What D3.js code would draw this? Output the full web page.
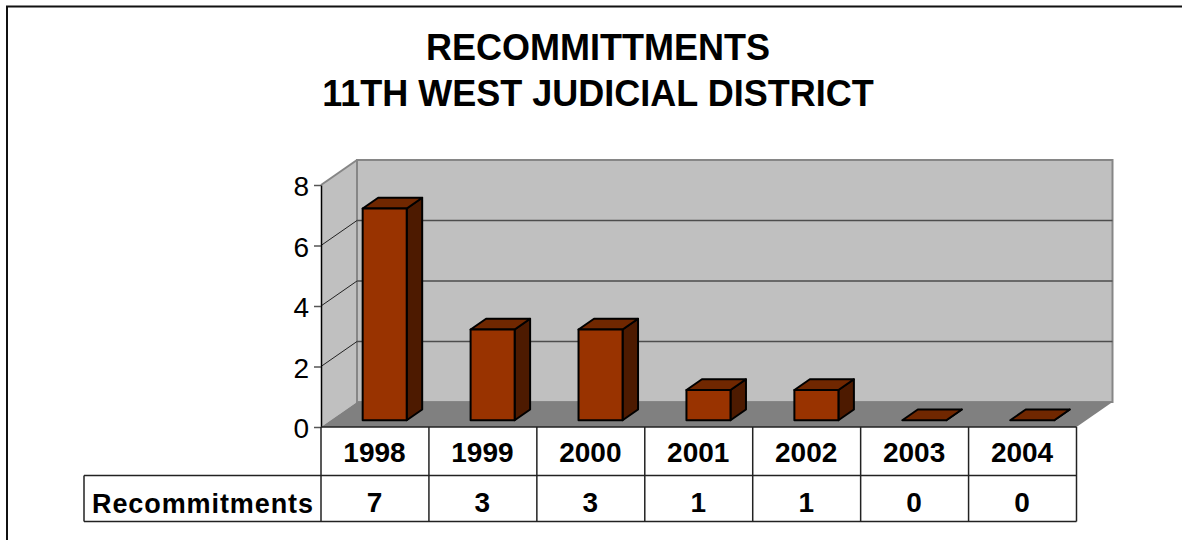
<!DOCTYPE html>
<html>
<head>
<meta charset="utf-8">
<script src="https://cdn.jsdelivr.net/npm/d3@7"></script>
<style>
html, body { margin: 0; padding: 0; background: #fff; }
svg { display: block; }
text { font-family: "Liberation Sans", Arial, sans-serif; fill: #000; }
</style>
</head>
<body>
<svg id="chart"></svg>
<script>
var years = ["1998", "1999", "2000", "2001", "2002", "2003", "2004"];
var recommitments = [7, 3, 3, 1, 1, 0, 0];
var yTicks = [0, 2, 4, 6, 8];
var titleLines = ["RECOMMITTMENTS", "11TH WEST JUDICIAL DISTRICT"];
var seriesName = "Recommitments";

var width = 1182;
var height = 540;

// 3d look: the back wall is shifted from the front plane by this much
var depthX = 36;
var depthY = -25;
// bars sit between these fractions of the depth
var barFront = 0.27;
var barBack = 0.70;

var svg = d3.select("#chart")
  .attr("width", width)
  .attr("height", height);

var x = d3.scaleBand()
  .domain(years)
  .range([321, 1076.5])
  .paddingInner(0.592)
  .paddingOuter(0.296);

var y = d3.scaleLinear()
  .domain([0, 8])
  .range([427, 185]);

var x0 = x.range()[0], x1 = x.range()[1];
var y0 = y(0), y8 = y(8);

function poly(points) {
  return points.map(function(p) { return p.join(","); }).join(" ");
}

// outer frame, only top and left show
svg.append("path")
  .attr("d", "M7,540V6.5H1182")
  .attr("fill", "none")
  .attr("stroke", "#111")
  .attr("stroke-width", 2);

// title
svg.append("g").selectAll("text")
  .data(titleLines)
  .enter()
  .append("text")
  .attr("x", 598)
  .attr("y", function(d, i) { return 60 + i * 46; })
  .attr("text-anchor", "middle")
  .style("font-size", "36px")
  .style("font-weight", "bold")
  .text(function(d) { return d; });

// walls and floor
svg.append("polygon")
  .attr("points", poly([[x0, y0], [x0, y8], [x0 + depthX, y8 + depthY], [x0 + depthX, y0 + depthY]]))
  .attr("fill", "#c0c0c0");

svg.append("rect")
  .attr("x", x0 + depthX)
  .attr("y", y8 + depthY)
  .attr("width", x1 - x0)
  .attr("height", y0 - y8)
  .attr("fill", "#c0c0c0")
  .attr("stroke", "#868686")
  .attr("stroke-width", 2);

svg.append("polygon")
  .attr("points", poly([[x0, y0], [x1, y0], [x1 + depthX, y0 + depthY], [x0 + depthX, y0 + depthY]]))
  .attr("fill", "#808080");

svg.append("line")
  .attr("x1", x0).attr("y1", y8)
  .attr("x2", x0 + depthX).attr("y2", y8 + depthY)
  .attr("stroke", "#868686")
  .attr("stroke-width", 2);

// gridlines, back wall and left wall
var grid = svg.append("g").selectAll("g")
  .data(yTicks.filter(function(d) { return d > 0 && d < 8; }))
  .enter()
  .append("g");

grid.append("line")
  .attr("x1", x0 + depthX)
  .attr("x2", x1 + depthX)
  .attr("y1", function(d) { return y(d) + depthY; })
  .attr("y2", function(d) { return y(d) + depthY; })
  .attr("stroke", "#4d4d4d")
  .attr("stroke-width", 1.5);

grid.append("line")
  .attr("x1", x0)
  .attr("x2", x0 + depthX)
  .attr("y1", function(d) { return y(d); })
  .attr("y2", function(d) { return y(d) + depthY; })
  .attr("stroke", "#222")
  .attr("stroke-width", 1);

// bars
var bars = svg.append("g").selectAll("g")
  .data(years.map(function(d, i) { return { year: d, value: recommitments[i] }; }))
  .enter()
  .append("g")
  .attr("stroke", "#000")
  .attr("stroke-width", 2)
  .attr("stroke-linejoin", "round");

function corners(d) {
  var fx = depthX * barFront, fy = depthY * barFront;
  var bx = depthX * (barBack - barFront), by = depthY * (barBack - barFront);
  var left = x(d.year) + fx, right = left + x.bandwidth();
  var top = y(d.value) + fy, bottom = y(0) + fy;
  return { left: left, right: right, top: top, bottom: bottom, bx: bx, by: by };
}

bars.append("polygon")
  .attr("fill", "#4d1a00")
  .attr("points", function(d) {
    var c = corners(d);
    return poly([[c.right, c.top], [c.right + c.bx, c.top + c.by], [c.right + c.bx, c.bottom + c.by], [c.right, c.bottom]]);
  });

bars.append("polygon")
  .attr("fill", "#702700")
  .attr("points", function(d) {
    var c = corners(d);
    return poly([[c.left, c.top], [c.left + c.bx, c.top + c.by], [c.right + c.bx, c.top + c.by], [c.right, c.top]]);
  });

bars.append("rect")
  .attr("fill", "#993300")
  .attr("x", function(d) { return corners(d).left; })
  .attr("y", function(d) { return corners(d).top; })
  .attr("width", x.bandwidth())
  .attr("height", function(d) { var c = corners(d); return c.bottom - c.top; });

// y axis
var yAxis = svg.append("g")
  .attr("transform", "translate(" + x0 + ",0)")
  .call(d3.axisLeft(y).tickValues(yTicks).tickSize(7).tickPadding(5).tickSizeOuter(0));

yAxis.select(".domain").attr("stroke", "#000").attr("stroke-width", 1.5);
yAxis.selectAll(".tick line").attr("stroke", "#555").attr("stroke-width", 1.5);
yAxis.selectAll(".tick text")
  .attr("fill", "#000")
  .attr("dy", "0.38em")
  .style("font-family", '"Liberation Sans", Arial, sans-serif')
  .style("font-size", "28px");

// data table under the chart
var rowTop = y0, rowMid = 475.5, rowBottom = 521.5, labelLeft = 84;
var step = x.step();
var tableLines = [
  [x0, rowTop, x1, rowTop],
  [x0, rowMid, x1, rowMid],
  [labelLeft, rowMid, x0, rowMid],
  [labelLeft, rowBottom, x1, rowBottom],
  [labelLeft, rowMid, labelLeft, rowBottom]
];
years.forEach(function(d, i) {
  tableLines.push([x0 + i * step, rowTop, x0 + i * step, rowBottom]);
});
tableLines.push([x1, rowTop, x1, rowBottom]);

svg.append("g").selectAll("line")
  .data(tableLines)
  .enter()
  .append("line")
  .attr("x1", function(d) { return d[0]; })
  .attr("y1", function(d) { return d[1]; })
  .attr("x2", function(d) { return d[2]; })
  .attr("y2", function(d) { return d[3]; })
  .attr("stroke", "#222")
  .attr("stroke-width", 1.5);

var cellStyle = function(sel) {
  sel.attr("text-anchor", "middle")
    .style("font-size", "28px")
    .style("font-weight", "bold");
};

svg.append("g").selectAll("text")
  .data(years)
  .enter()
  .append("text")
  .attr("x", function(d, i) { return x0 + (i + 0.5) * step - 0.5; })
  .attr("y", 462)
  .call(cellStyle)
  .text(function(d) { return d; });

svg.append("g").selectAll("text")
  .data(recommitments)
  .enter()
  .append("text")
  .attr("x", function(d, i) { return x0 + (i + 0.5) * step - 0.5; })
  .attr("y", 512)
  .call(cellStyle)
  .text(function(d) { return d; });

svg.append("text")
  .attr("x", 92)
  .attr("y", 513)
  .attr("textLength", 221)
  .style("font-size", "27px")
  .style("font-weight", "bold")
  .text(seriesName);
</script>
</body>
</html>
